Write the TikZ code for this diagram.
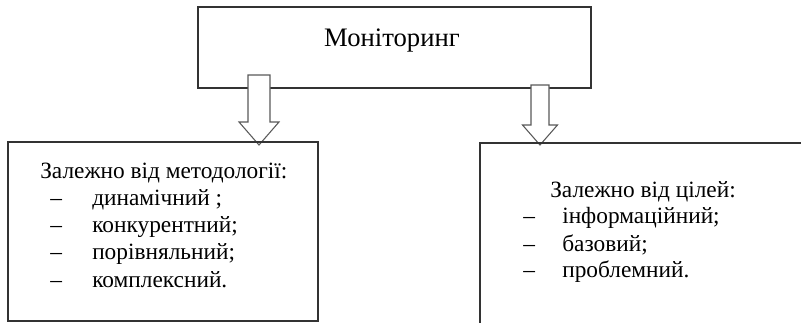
\documentclass[tikz,border=0pt]{standalone}
\usepackage{fontspec}
\setmainfont{Liberation Serif}
\usetikzlibrary{positioning,fit,calc}

\begin{document}
\begin{tikzpicture}[x=0.75pt,y=-0.75pt,
    box/.style={draw=black!80,line width=1pt,inner sep=0pt},
    blockarrow/.style={draw=black!65,line width=0.8pt,fill=white,line join=miter},
    title/.style={font=\fontsize{20}{24}\selectfont,anchor=base,inner sep=0pt},
    entry/.style={font=\fontsize{17.5}{21}\selectfont,anchor=base west,inner sep=0pt}
]
\useasboundingbox (0,0) rectangle (801,323);
\clip (0,0) rectangle (801,323);

% Top box
\node[box,fit={(198,7) (591,88)}] (monitoring) {};
\node[title] (monitoringtext) at (392,47) {Моніторинг};

% Block arrows down
\foreach \x/\yt/\len/\sh/\hh/\hl in {259/75/70/11/20/23,540/85/60/9/17.5/20} {
    \draw[blockarrow] (\x,\yt) ++(-\sh,0) -- ++(0,{\len-\hl}) -- ++({\sh-\hh},0)
        -- ++(\hh,\hl) -- ++(\hh,-\hl) -- ++({\sh-\hh},0) -- ++(0,{\hl-\len}) -- cycle;
}

% Lower boxes
\node[box,fit={(8,142) (318,321)}] (methodbox) {};
\node[box,fit={(480,143) (830,340)}] (goalbox) {};

% By methodology
\node[entry] (methodhead) at (40,179) {Залежно від методології:};
\foreach \y/\t [count=\i] in {206/динамічний ;,233/конкурентний;,260/порівняльний;,288/комплексний.} {
    \node[entry] (mdash\i) at (50,\y) {\textendash};
    \node[entry] (mitem\i) at (92,\y) {\t};
}

% By goals
\node[entry] (goalhead) at (550,198) {Залежно від цілей:};
\foreach \y/\t [count=\i] in {224/інформаційний;,252/базовий;,278/проблемний.} {
    \node[entry] (gdash\i) at (523,\y) {\textendash};
    \node[entry] (gitem\i) at (562,\y) {\t};
}

\end{tikzpicture}
\end{document}
